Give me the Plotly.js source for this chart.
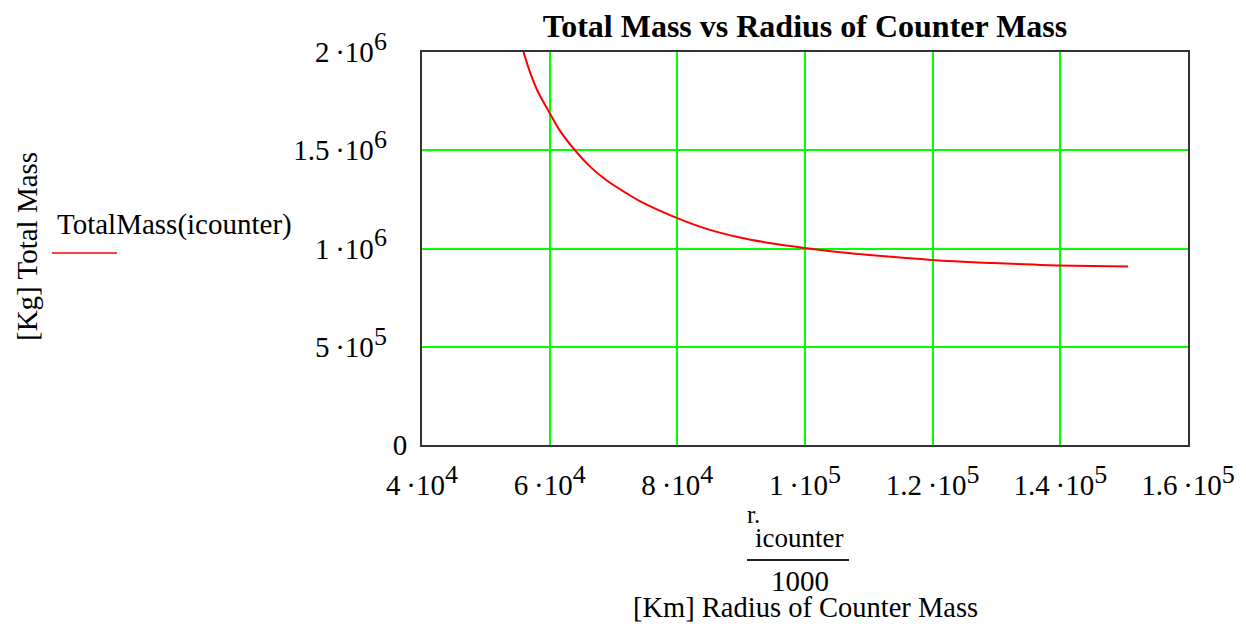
<!DOCTYPE html>
<html>
<head>
<meta charset="utf-8">
<script src="https://cdn.plot.ly/plotly-3.0.1.min.js"></script>
<style>html,body{margin:0;padding:0;background:#fff;}#chart{width:1246px;height:630px;}</style>
</head>
<body>
<div id="chart"></div>
<script>
// Radius of counter mass [km] (r_icounter / 1000)
const radiusKm = [55900, 57000, 58200, 60000, 61600, 64100, 66300, 68900, 72300, 74200, 79600, 84600, 89800, 95000, 100300, 104400, 109700, 114900, 119800, 127900, 135800, 139400, 150600];
// Total mass [kg]
const totalMass = [2.0e6, 1.890e6, 1.795e6, 1.690e6, 1.600e6, 1.495e6, 1.418e6, 1.347e6, 1.276e6, 1.240e6, 1.160e6, 1.100e6, 1.056e6, 1.025e6, 1.001e6, 0.985e6, 0.968e6, 0.954e6, 0.942e6, 0.928e6, 0.918e6, 0.914e6, 0.908e6];

const sup = (d) => '<sup><span style="font-size:26px">' + d + '</span></sup>';
const xTickVals = [40000, 60000, 80000, 100000, 120000, 140000, 160000];
const xTickText = ['4\u2009·10' + sup(4), '6\u2009·10' + sup(4), '8\u2009·10' + sup(4), '1\u2009·10' + sup(5), '1.2\u2009·10' + sup(5), '1.4\u2009·10' + sup(5), '1.6\u2009·10' + sup(5)];
const pad = '\u00a0\u00a0\u2009';
const yTickVals = [0, 500000, 1000000, 1500000, 2000000];
const yTickText = ['0', '5\u2009·10' + sup(5) + pad, '1\u2009·10' + sup(6) + pad, '1.5\u2009·10' + sup(6) + pad, '2\u2009·10' + sup(6) + pad];

const serif = 'Liberation Serif, Times New Roman, serif';
const FS = 29;

const trace = {
  x: radiusKm, y: totalMass, type: 'scatter', mode: 'lines',
  name: 'TotalMass(icounter)',
  line: {color: '#ff0000', width: 2, shape: 'spline', smoothing: 1},
  showlegend: false, cliponaxis: true
};

const plotW = 766, plotH = 393, L = 422, B = 445;
const px = (x) => (x - L) / plotW;
const py = (y) => (B - y) / plotH;

const layout = {
  width: 1246, height: 630,
  margin: {l: 422, r: 58, t: 52, b: 185},
  paper_bgcolor: '#ffffff', plot_bgcolor: '#ffffff',
  font: {family: serif, color: '#000', size: FS},
  title: {text: '<b>Total Mass vs Radius of Counter Mass</b>', x: 0.5, xref: 'paper', xanchor: 'center',
          y: 1 - 26 / 630, yanchor: 'middle',
          font: {family: serif, size: 32, color: '#000'}},
  xaxis: {
    range: [40000, 160000], tickmode: 'array', tickvals: xTickVals, ticktext: xTickText,
    showgrid: true, gridcolor: '#00ff00', gridwidth: 2,
    showline: true, linecolor: '#333', linewidth: 2, mirror: true,
    ticks: '', zeroline: false, ticklabelstandoff: 13,
    tickfont: {family: serif, size: FS, color: '#000'}
  },
  yaxis: {
    range: [0, 2000000], tickmode: 'array', tickvals: yTickVals, ticktext: yTickText,
    showgrid: true, gridcolor: '#00ff00', gridwidth: 2,
    showline: true, linecolor: '#333', linewidth: 2, mirror: true,
    ticks: '', zeroline: false, ticklabelstandoff: 7,
    tickfont: {family: serif, size: FS, color: '#000'}
  },
  annotations: [
    {text: '[Kg] Total Mass', textangle: -90, xref: 'paper', yref: 'paper', x: px(27), y: py(247),
     xanchor: 'center', yanchor: 'middle', showarrow: false, font: {family: serif, size: FS, color: '#000'}},
    {text: 'TotalMass(icounter)', xref: 'paper', yref: 'paper', x: px(55), y: py(224),
     xanchor: 'left', yanchor: 'middle', showarrow: false, font: {family: serif, size: FS, color: '#000'}},
    {text: 'r.', xref: 'paper', yref: 'paper', x: px(745), y: py(514),
     xanchor: 'left', yanchor: 'middle', showarrow: false, font: {family: serif, size: 25, color: '#000'}},
    {text: 'icounter', xref: 'paper', yref: 'paper', x: px(799), y: py(538),
     xanchor: 'center', yanchor: 'middle', showarrow: false, font: {family: serif, size: 27, color: '#000'}},
    {text: '1000', xref: 'paper', yref: 'paper', x: px(800), y: py(581),
     xanchor: 'center', yanchor: 'middle', showarrow: false, font: {family: serif, size: FS, color: '#000'}},
    {text: '[Km] Radius of Counter Mass', xref: 'paper', yref: 'paper', x: px(805), y: py(607),
     xanchor: 'center', yanchor: 'middle', showarrow: false, font: {family: serif, size: 28.5, color: '#000'}}
  ],
  shapes: [
    {type: 'line', xref: 'paper', yref: 'paper', x0: px(52), x1: px(117),
     y0: py(253), y1: py(253), line: {color: '#ff0000', width: 1.5}},
    {type: 'line', xref: 'paper', yref: 'paper', x0: px(747), x1: px(849),
     y0: py(560), y1: py(560), line: {color: '#222', width: 2}}
  ]
};

Plotly.newPlot('chart', [trace], layout, {displayModeBar: false, staticPlot: true});
</script>
</body>
</html>
